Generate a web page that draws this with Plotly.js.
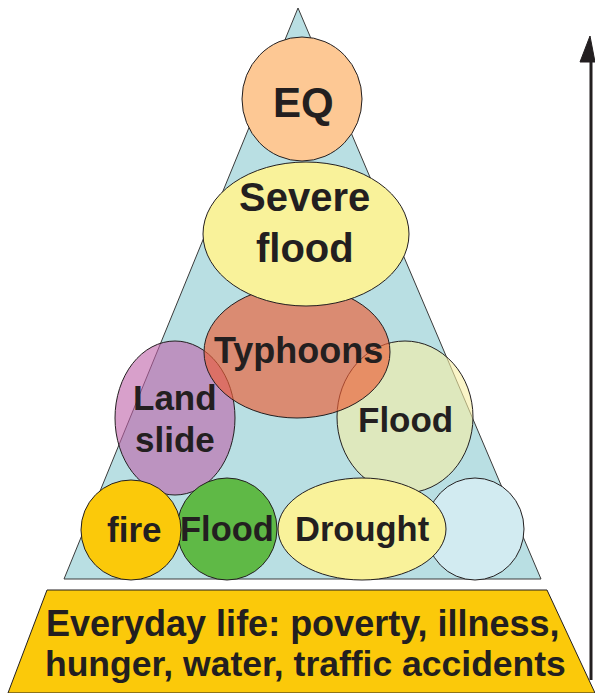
<!DOCTYPE html>
<html><head><meta charset="utf-8">
<script src="https://cdn.plot.ly/plotly-3.0.1.min.js"></script>
<style>html,body{margin:0;padding:0;background:#fff}</style>
</head><body><div id="chart" style="width:595px;height:693px"></div>
<script>
// Hazard bubbles (drawing order, back to front)
const hazardNames = ['Land slide','Flood','Typhoons','EQ','Severe flood','(unlabelled)','Drought','Flood','fire'];
const hazardCx = [175, 405, 297, 302, 306, 475, 362, 227, 131];
const hazardCy = [418, 417, 352, 99, 234, 529, 529, 529, 530];
const hazardRx = [60, 68, 93, 60, 103, 49, 84, 50, 50];
const hazardRy = [77, 76, 66, 62, 72, 51, 51, 51, 50];
const hazardFill = ['rgba(190,97,168,0.6)','rgba(247,238,163,0.6)','rgba(235,94,53,0.65)','#fdc894','#f9f29a','#d2ebf1','#f9f29a','#5fb946','#fbc90a'];

// Text labels (one entry per line)
const labelText = ['EQ','Severe','flood','Typhoons','Land','slide','Flood','fire','Flood','Drought',
  'Everyday life: poverty, illness,','hunger, water, traffic accidents'];
const labelX = [303,304,305,298,175,175,405,134,227,362,303,305];
const labelY = [102,197,248,350,397,439,419,529,529,529,623,664];
const labelSize = [42,40,40,36,35,35,35,35,34.5,34.5,36,35.5];

// Pyramid and base
const pyramidX = [298, 541, 64];
const pyramidY = [8, 579, 579];
const baseX = [47, 547, 595, 8];
const baseY = [590, 590, 693, 693];

const ink = '#231f20';
const shapes = [];
function poly(xs, ys){ return 'M' + xs.map((x,i)=>x+','+ys[i]).join(' L') + ' Z'; }
shapes.push({type:'path', path: poly(baseX, baseY), fillcolor:'#fbc90a', line:{color:ink, width:1}});
shapes.push({type:'path', path: poly(pyramidX, pyramidY), fillcolor:'#b9dfe3', line:{color:'#3a3a3a', width:1}});
for (let i=0;i<hazardNames.length;i++){
  shapes.push({type:'circle', x0:hazardCx[i]-hazardRx[i], x1:hazardCx[i]+hazardRx[i],
    y0:hazardCy[i]-hazardRy[i], y1:hazardCy[i]+hazardRy[i], fillcolor:hazardFill[i],
    line:{color:ink, width:1}});
}
// arrow on the right
shapes.push({type:'line', x0:591, x1:591, y0:58, y1:680, line:{color:ink, width:3}});
shapes.push({type:'path', path:'M590,36 L595,62 L580,62 Z', fillcolor:ink, line:{color:ink, width:1}});

const annotations = labelText.map((t,i)=>({x:labelX[i], y:labelY[i], text:t, showarrow:false,
  xanchor:'center', yanchor:'middle', font:{family:'Liberation Sans, Arial, sans-serif', size:labelSize[i], color:ink, weight:'bold'}}));

Plotly.newPlot('chart', [{x:[0,595], y:[0,693], mode:'markers', marker:{opacity:0}, hoverinfo:'skip', showlegend:false}], {
  width:595, height:693, margin:{l:0,r:0,t:0,b:0},
  paper_bgcolor:'#fff', plot_bgcolor:'#fff',
  xaxis:{range:[0,595], visible:false, fixedrange:true},
  yaxis:{range:[693,0], visible:false, fixedrange:true},
  shapes:shapes, annotations:annotations, showlegend:false
}, {displayModeBar:false, staticPlot:true});
</script></body></html>
